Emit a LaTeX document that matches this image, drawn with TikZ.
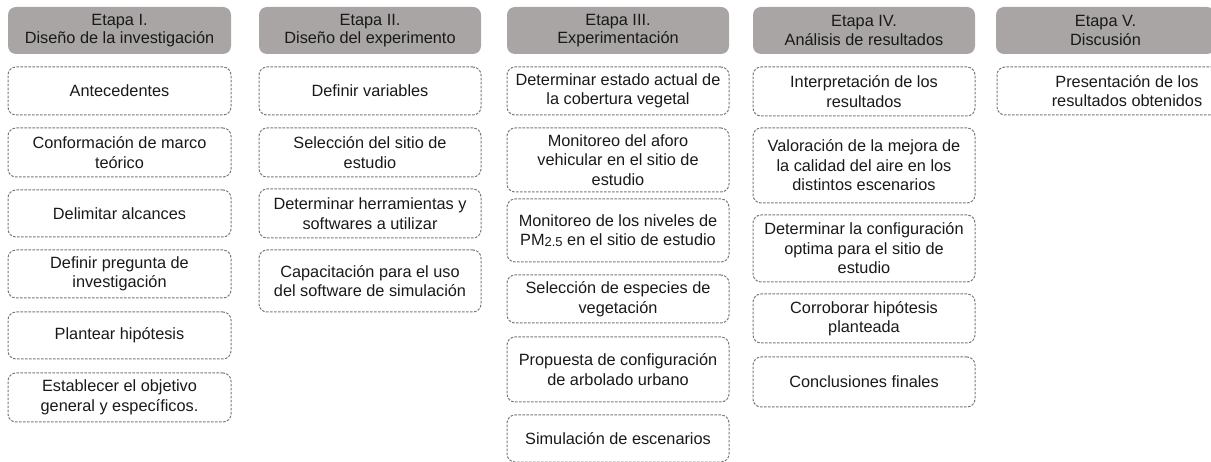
\documentclass[tikz,border=0pt]{standalone}
\usepackage{fontspec}
\setmainfont{Liberation Sans}
\definecolor{hdrfill}{RGB}{168,165,164}
\definecolor{txtcol}{RGB}{25,25,25}
\definecolor{dashcol}{RGB}{120,120,120}
\tikzset{
  hdr/.style={fill=hdrfill, draw=none, rounded corners=8pt, anchor=north west,
    minimum height=47pt, inner sep=2pt, outer sep=0pt, align=center, text=txtcol,
    font=\fontsize{16.3}{18.8}\selectfont},
  stepbox/.style={draw=dashcol, line width=1pt, dash pattern=on 2.6pt off 1.4pt,
    rounded corners=8pt, anchor=north west, inner sep=2pt, outer sep=0pt,
    align=center, text=txtcol, font=\fontsize{16.3}{19.5}\selectfont}
}
\begin{document}
\begin{tikzpicture}[x=1pt,y=-1pt]
\useasboundingbox (0,0) rectangle (1211,462);
% Column I
\node[hdr, minimum width=223pt] (h1) at (8,7) {Etapa I.\\Diseño de la investigación};
\node[stepbox, minimum width=223pt, minimum height=48pt] (a1) at (8,67) {Antecedentes};
\node[stepbox, minimum width=223pt, minimum height=49pt] (a2) at (8,128) {Conformación de marco\\teórico};
\node[stepbox, minimum width=223pt, minimum height=47pt] (a3) at (8,190) {Delimitar alcances};
\node[stepbox, minimum width=223pt, minimum height=48pt] (a4) at (8,250) {Definir pregunta de\\investigación};
\node[stepbox, minimum width=223pt, minimum height=47pt] (a5) at (8,312) {Plantear hipótesis};
\node[stepbox, minimum width=223pt, minimum height=49pt] (a6) at (8,373) {Establecer el objetivo\\general y específicos.};
% Column II
\node[hdr, minimum width=222pt] (h2) at (259,7) {Etapa II.\\Diseño del experimento};
\node[stepbox, minimum width=222pt, minimum height=48pt] (b1) at (259,67) {Definir variables};
\node[stepbox, minimum width=222pt, minimum height=49pt] (b2) at (259,128) {Selección del sitio de\\estudio};
\node[stepbox, minimum width=222pt, minimum height=49pt] (b3) at (259,189) {Determinar herramientas y\\softwares a utilizar};
\node[stepbox, minimum width=222pt, minimum height=62pt] (b4) at (259,250) {Capacitación para el uso\\del software de simulación};
% Column III
\node[hdr, minimum width=222pt] (h3) at (507,7) {Etapa III.\\Experimentación};
\node[stepbox, minimum width=222pt, minimum height=48pt] (c1) at (507,67) {Determinar estado actual de\\la cobertura vegetal};
\node[stepbox, minimum width=222pt, minimum height=64pt] (c2) at (507,128) {Monitoreo del aforo\\vehicular en el sitio de\\estudio};
\node[stepbox, minimum width=222pt, minimum height=63pt] (c3) at (507,199) {Monitoreo de los niveles de\\PM{\fontsize{13}{13}\selectfont\raisebox{-0.8pt}{2.5}} en el sitio de estudio};
\node[stepbox, minimum width=222pt, minimum height=48pt] (c4) at (507,275) {Selección de especies de\\vegetación};
\node[stepbox, minimum width=222pt, minimum height=65pt] (c5) at (507,337) {Propuesta de configuración\\de arbolado urbano};
\node[stepbox, minimum width=222pt, minimum height=47pt] (c6) at (507,415) {Simulación de escenarios};
% Column IV
\node[hdr, minimum width=222pt] (h4) at (753,7) {Etapa IV.\\Análisis de resultados};
\node[stepbox, minimum width=222pt, minimum height=49pt] (d1) at (753,67) {Interpretación de los\\resultados};
\node[stepbox, minimum width=222pt, minimum height=75pt] (d2) at (753,128) {Valoración de la mejora de\\la calidad del aire en los\\distintos escenarios};
\node[stepbox, minimum width=222pt, minimum height=67pt] (d3) at (753,215) {Determinar la configuración\\optima para el sitio de\\estudio};
\node[stepbox, minimum width=222pt, minimum height=49pt] (d4) at (753,294) {Corroborar hipótesis\\planteada};
\node[stepbox, minimum width=222pt, minimum height=50pt] (d5) at (753,357) {Conclusiones finales};
% Column V
\node[hdr, minimum width=219pt] (h5) at (996,7) {Etapa V.\\Discusión};
\node[stepbox, minimum width=260pt, minimum height=48pt] (e1) at (997,67) {Presentación de los\\resultados obtenidos};
\end{tikzpicture}
\end{document}
